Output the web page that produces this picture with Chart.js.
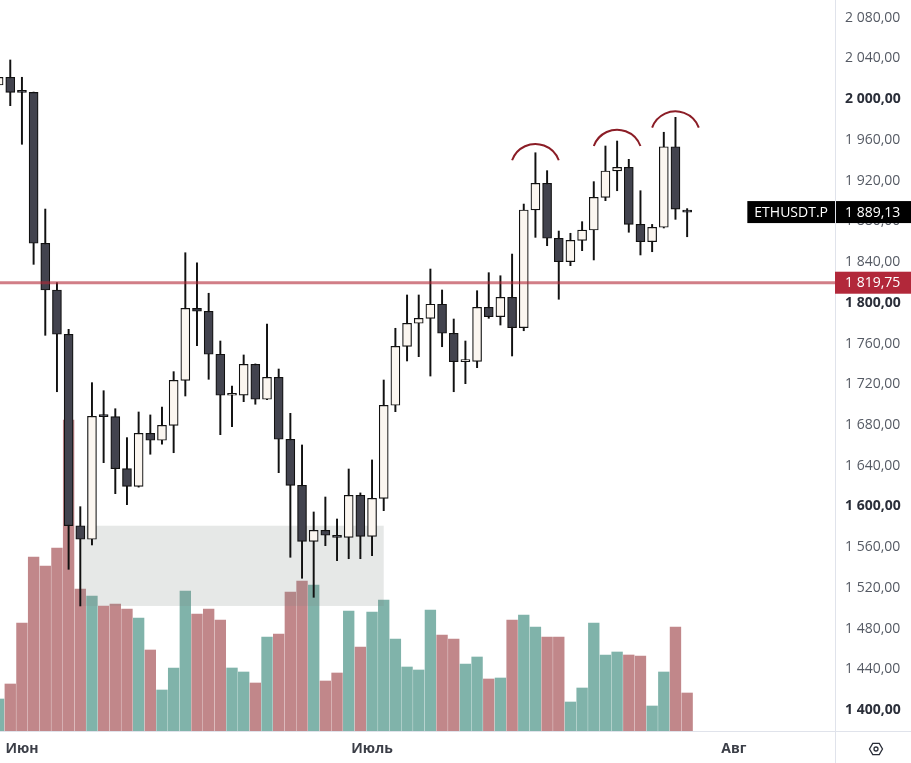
<!DOCTYPE html>
<html>
<head>
<meta charset="utf-8">
<title>ETHUSDT.P</title>
<script src="https://cdn.jsdelivr.net/npm/chart.js@4.4.0/dist/chart.umd.min.js"></script>
<style>
  html, body { margin: 0; padding: 0; background: #fff; }
  #chart { display: block; }
</style>
</head>
<body>
<canvas id="chart" width="911" height="763"></canvas>
<script>
// daily candles, 30 May .. 28 Jul
const opens = [2013.9, 2021.5, 2007.0, 2006.7, 1858.5, 1812.6, 1769.1, 1581.1, 1567.8, 1688.6,
  1688.3, 1637.1, 1619.8, 1671.9, 1665.0, 1679.7, 1723.9, 1794.6, 1791.7, 1749.5,
  1709.2, 1709.4, 1739.6, 1705.3, 1726.9, 1666.0, 1620.8, 1565.8, 1576.6, 1571.7,
  1569.7, 1611.0, 1570.7, 1608.0, 1699.4, 1757.3, 1779.9, 1784.8, 1798.6, 1770.1,
  1742.2, 1742.5, 1795.6, 1786.4, 1805.4, 1775.6, 1891.2, 1917.4, 1863.4, 1840.4,
  1861.4, 1871.5, 1903.6, 1929.5, 1933.1, 1877.1, 1860.0, 1874.2, 1953.3, 1891.0];
const highs = [2026.7, 2038.5, 2021.5, 2007.0, 1892.1, 1819.8, 1774.0, 1599.8, 1721.6, 1713.7,
  1696.0, 1667.6, 1692.8, 1689.9, 1697.7, 1732.4, 1849.2, 1839.4, 1809.4, 1762.5,
  1718.3, 1748.8, 1740.0, 1779.2, 1735.0, 1691.5, 1660.4, 1594.6, 1609.3, 1587.7,
  1636.8, 1613.3, 1645.7, 1724.2, 1775.0, 1807.7, 1807.7, 1833.2, 1812.6, 1784.1,
  1762.5, 1811.9, 1829.6, 1826.6, 1847.9, 1897.0, 1947.4, 1929.8, 1870.5, 1868.3,
  1879.7, 1919.0, 1954.0, 1958.9, 1940.9, 1910.1, 1877.0, 1967.5, 1982.2, 1892.5];
const lows = [2011.0, 1993.6, 1955.7, 1837.8, 1768.1, 1712.7, 1538.3, 1502.3, 1562.2, 1643.0,
  1612.6, 1601.8, 1619.0, 1651.3, 1661.1, 1652.8, 1708.5, 1757.9, 1724.9, 1670.5,
  1678.4, 1702.9, 1700.4, 1705.0, 1633.2, 1550.1, 1529.5, 1510.8, 1561.5, 1546.8,
  1548.7, 1548.7, 1551.7, 1595.9, 1693.1, 1742.9, 1747.1, 1728.1, 1756.9, 1712.7,
  1720.6, 1736.3, 1784.8, 1778.2, 1747.8, 1772.6, 1864.3, 1856.1, 1803.5, 1836.5,
  1851.2, 1842.1, 1900.3, 1910.1, 1869.3, 1847.0, 1850.2, 1873.5, 1882.0, 1864.9];
const closes = [2021.5, 2006.7, 2006.7, 1858.5, 1812.6, 1769.1, 1581.1, 1567.8, 1688.6, 1688.3,
  1637.1, 1619.8, 1671.9, 1665.0, 1679.7, 1723.9, 1794.6, 1791.7, 1749.5, 1709.2,
  1709.4, 1739.6, 1705.3, 1726.9, 1666.0, 1620.8, 1565.8, 1576.6, 1571.7, 1569.7,
  1611.0, 1570.7, 1608.0, 1699.4, 1757.3, 1779.9, 1784.8, 1798.6, 1770.1, 1742.2,
  1742.5, 1795.6, 1786.4, 1805.4, 1775.6, 1891.2, 1917.4, 1863.4, 1840.4, 1861.4,
  1871.5, 1903.6, 1929.5, 1933.1, 1877.1, 1860.0, 1874.2, 1953.3, 1892.1, 1889.13];
// volume, thousands
const volumes = [320, 470, 1080, 1740, 1650, 1830, 3110, 1420, 1350, 1250,
  1270, 1220, 1130, 810, 410, 630, 1400, 1170, 1220, 1110,
  630, 590, 480, 940, 970, 1390, 1500, 1460, 500, 580,
  1200, 840, 1190, 1310, 920, 640, 610, 1210, 960, 920,
  670, 740, 520, 530, 1110, 1160, 1040, 940, 940, 290,
  430, 1080, 760, 790, 760, 750, 250, 590, 1040, 380];

const priceTicks = [1400, 1440, 1480, 1520, 1560, 1600, 1640, 1680, 1720, 1760,
  1800, 1840, 1880, 1920, 1960, 2000, 2040, 2080];
const monthTicks = [2, 32, 63];
const monthLabels = ['Июн', 'Июль', 'Авг'];

// drawings
const zoneCandles = [7, 33];
const zonePrices = [1502.3, 1581.1];
const levelPrice = 1819.75;
const lastPrice = 1889.13;
const symbol = 'ETHUSDT.P';
const peakCandles = [46, 53, 58];
const peakArcTops = [1956, 1970, 1988];

const FONT = "'Open Sans', 'Noto Sans', sans-serif";
const BORDER = '#e0e3eb';
const isUp = closes.map((c, i) => c >= opens[i]);

function fmt(v) {
  const parts = v.toFixed(2).split('.');
  return parts[0].replace(/\B(?=(\d{3})+(?!\d))/g, ' ') + ',' + parts[1];
}

const drawings = {
  id: 'drawings',
  afterDatasetDraw(chart, args) {
    if (args.index !== 0) return;
    const { ctx, scales: { x, y } } = chart;
    const x0 = x.getPixelForValue(zoneCandles[0]);
    const x1 = x.getPixelForValue(zoneCandles[1]);
    const y0 = y.getPixelForValue(zonePrices[1]);
    const y1 = y.getPixelForValue(zonePrices[0]);
    ctx.save();
    ctx.fillStyle = 'rgba(120, 135, 130, 0.19)';
    ctx.fillRect(x0, y0, x1 - x0, y1 - y0);
    ctx.restore();
  },
  afterDatasetsDraw(chart) {
    const { ctx, chartArea: area, scales: { x, y } } = chart;
    ctx.save();
    ctx.beginPath();
    ctx.rect(area.left, area.top, area.right - area.left, area.bottom - area.top);
    ctx.clip();

    // level line
    const ly = y.getPixelForValue(levelPrice);
    ctx.strokeStyle = 'rgba(178, 40, 55, 0.6)';
    ctx.lineWidth = 3;
    ctx.beginPath();
    ctx.moveTo(area.left, ly);
    ctx.lineTo(area.right, ly);
    ctx.stroke();

    // arcs over the peaks
    ctx.strokeStyle = '#8b1d26';
    ctx.lineWidth = 2;
    peakCandles.forEach((k, i) => {
      const cx = x.getPixelForValue(k);
      const a = x.getPixelForValue(k + 2) - cx;
      const top = y.getPixelForValue(peakArcTops[i]);
      const s = y.getPixelForValue(peakArcTops[i] - 16) - top;
      const r = (a * a + s * s) / (2 * s);
      const half = Math.asin(Math.min(1, a / r));
      ctx.beginPath();
      ctx.arc(cx, top + r, r, -Math.PI / 2 - half, -Math.PI / 2 + half);
      ctx.stroke();
    });
    ctx.restore();
  },
  afterDraw(chart) {
    const { ctx, chartArea: area, scales: { y } } = chart;
    const axisW = chart.width - area.right;
    ctx.save();

    // axis borders running across the corner
    ctx.strokeStyle = BORDER;
    ctx.lineWidth = 1;
    ctx.beginPath();
    ctx.moveTo(area.right, area.bottom + 0.5);
    ctx.lineTo(chart.width, area.bottom + 0.5);
    ctx.moveTo(area.right + 0.5, area.bottom);
    ctx.lineTo(area.right + 0.5, chart.height);
    ctx.stroke();

    ctx.font = '14px ' + FONT;
    ctx.textBaseline = 'middle';
    ctx.textAlign = 'left';

    // level label
    const ly = y.getPixelForValue(levelPrice);
    ctx.fillStyle = '#b2283a';
    ctx.fillRect(area.right, ly - 11, axisW, 22);
    ctx.fillStyle = '#fff';
    ctx.fillText(fmt(levelPrice), area.right + 10, ly + 0.5);

    // last price label
    const py = y.getPixelForValue(lastPrice);
    const nameW = ctx.measureText(symbol).width + 14;
    ctx.fillStyle = '#000';
    ctx.fillRect(area.right - nameW, py - 11, nameW, 22);
    ctx.fillRect(area.right + 1, py - 11, axisW - 1, 22);
    ctx.fillStyle = '#fff';
    ctx.fillText(symbol, area.right - nameW + 7, py + 0.5);
    ctx.fillText(fmt(lastPrice), area.right + 10, py + 0.5);

    // settings icon
    const gx = area.right + 41, gy = area.bottom + 18;
    ctx.strokeStyle = '#2a2e39';
    ctx.lineWidth = 1.3;
    ctx.beginPath();
    for (let i = 0; i < 6; i++) {
      const ang = Math.PI / 3 * i;
      const px = gx + 6.5 * Math.cos(ang), pyy = gy + 6.5 * Math.sin(ang);
      if (i === 0) ctx.moveTo(px, pyy); else ctx.lineTo(px, pyy);
    }
    ctx.closePath();
    ctx.stroke();
    ctx.beginPath();
    ctx.arc(gx, gy, 2, 0, Math.PI * 2);
    ctx.stroke();
    ctx.restore();
  }
};

new Chart(document.getElementById('chart'), {
  type: 'bar',
  data: {
    datasets: [{
      label: 'Объём',
      data: volumes.map((v, i) => ({ x: i, y: v })),
      yAxisID: 'vol',
      backgroundColor: isUp.map(u => u ? '#80b3aa' : '#c1878a'),
      barThickness: 10.7,
      grouped: false,
      clip: 0,
      order: 3
    }, {
      label: 'Тени',
      data: lows.map((l, i) => ({ x: i, y: [l, highs[i]] })),
      backgroundColor: '#111',
      barThickness: 1.3,
      grouped: false,
      clip: 0,
      order: 2
    }, {
      label: symbol,
      data: opens.map((o, i) => ({ x: i, y: [o, closes[i]] })),
      backgroundColor: isUp.map(u => u ? '#fbf6f0' : '#42434e'),
      borderColor: '#111',
      borderWidth: 1.2,
      borderSkipped: false,
      barThickness: 9,
      minBarLength: 2,
      grouped: false,
      clip: 0,
      order: 1
    }]
  },
  options: {
    responsive: false,
    animation: false,
    layout: { padding: 0 },
    plugins: {
      legend: { display: false },
      tooltip: { enabled: false }
    },
    scales: {
      x: {
        type: 'linear',
        min: 0.12,
        max: 71.67,
        offset: false,
        grid: { display: false, drawTicks: false },
        border: { display: true, color: BORDER },
        afterBuildTicks: (scale) => { scale.ticks = monthTicks.map(v => ({ value: v })); },
        afterFit: (scale) => {
          scale.height = 32;
          scale.paddingLeft = 0;
          scale.paddingRight = 0;
        },
        ticks: {
          autoSkip: false,
          maxRotation: 0,
          padding: 10,
          color: '#3b3e47',
          font: { family: FONT, size: 14, weight: 'bold' },
          callback: (value, index) => monthLabels[index]
        }
      },
      y: {
        position: 'right',
        min: 1379.5,
        max: 2097.4,
        grid: { display: false, drawTicks: false },
        border: { display: true, color: BORDER },
        afterBuildTicks: (scale) => { scale.ticks = priceTicks.map(v => ({ value: v })); },
        afterFit: (scale) => {
          scale.width = 76;
          scale.paddingTop = 0;
          scale.paddingBottom = 0;
        },
        ticks: {
          padding: 10,
          color: (c) => c.tick && c.tick.value % 200 === 0 ? '#2a2e39' : '#555a64',
          font: (c) => ({
            family: FONT,
            size: 14,
            weight: c.tick && c.tick.value % 200 === 0 ? 'bold' : 'normal'
          }),
          callback: (value) => fmt(value)
        }
      },
      vol: {
        display: false,
        min: 0,
        max: 7310
      }
    }
  },
  plugins: [drawings]
});
</script>
</body>
</html>
